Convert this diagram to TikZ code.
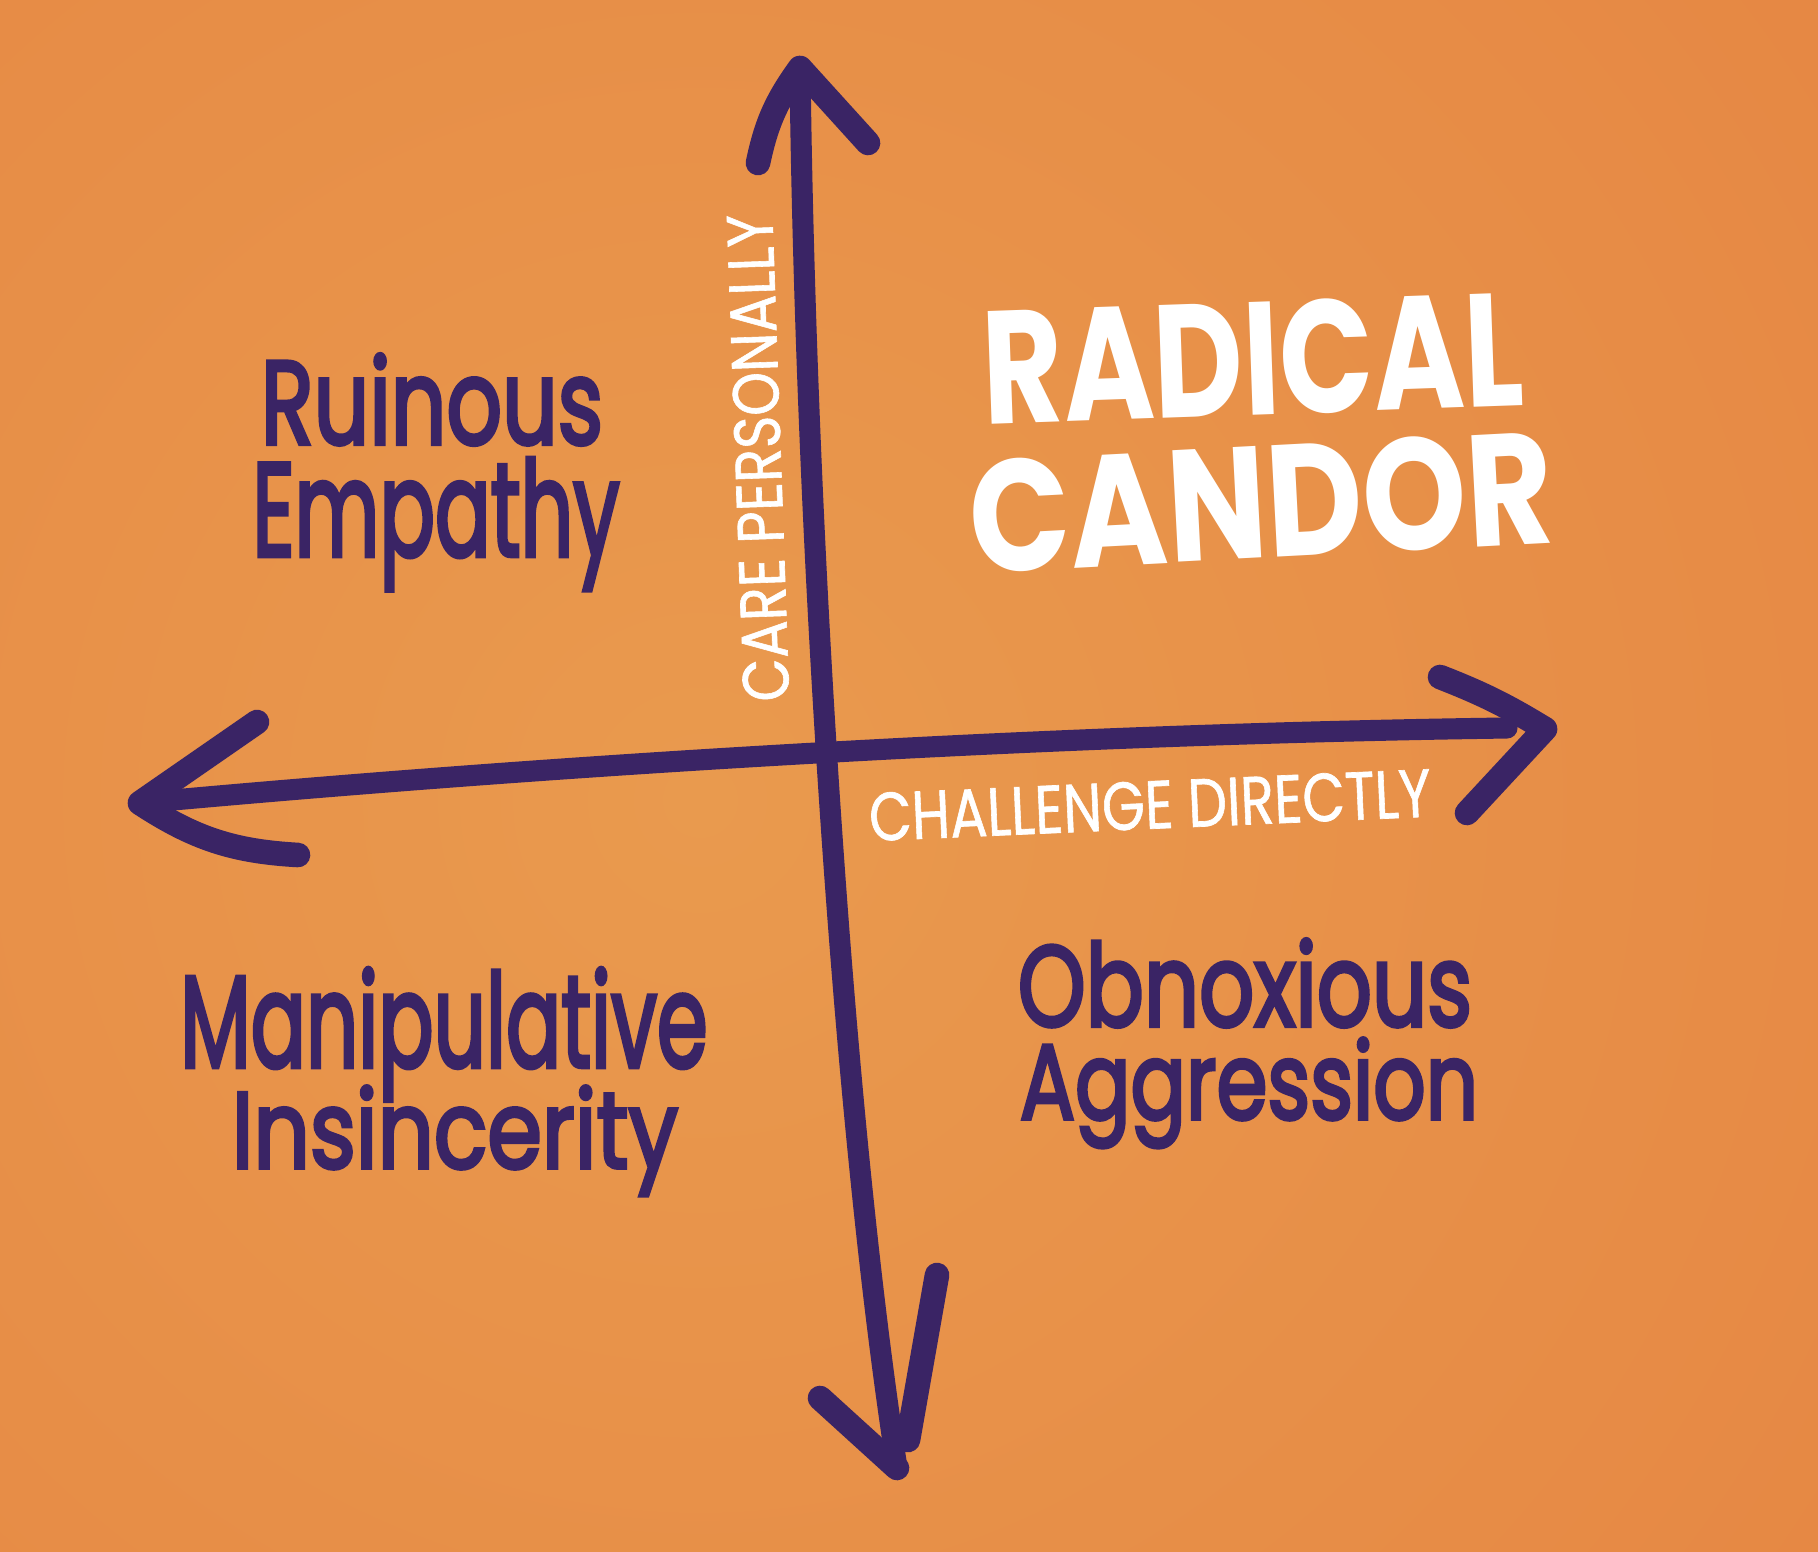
\documentclass[tikz,border=0pt]{standalone}
\usepackage{fontspec}
\setmainfont{Poppins}
\newfontfamily\markerfont{Poppins}[FakeBold=3.5]
\newfontfamily\thinmarker{Poppins}[FakeBold=1]
\usepackage{graphicx}
\definecolor{navy}{HTML}{3A2465}
\definecolor{paper}{HTML}{E99A4E}
\definecolor{paperedge}{HTML}{E47A3C}
\newcommand{\fitword}[3]{\resizebox{#1cm}{#2cm}{#3}}
\tikzset{
  marker/.style={draw=navy, line width=6pt, line cap=round, line join=round},
  barb/.style={marker, line width=7pt},
  quadlabel/.style={text=navy, font=\markerfont, inner sep=0pt, anchor=base},
  chalk/.style={text=white, font=\thinmarker, inner sep=0pt},
  bigchalk/.style={chalk, font=\bfseries, anchor=base},
}
\begin{document}
\begin{tikzpicture}[x=0.01cm, y=-0.01cm]
% paper
\useasboundingbox (0,0) rectangle (1818,1552);
\shade[inner color=paper, outer color=paperedge] (-1700,-1600) rectangle (3100,3200);
% axis ends
\coordinate (top) at (800,68);
\coordinate (bottom) at (897,1468);
\coordinate (left) at (140,803);
\coordinate (right) at (1545,729);
\coordinate (shaftR) at (1507,728);
\coordinate (topL) at (758,163);
\coordinate (topR) at (868,143);
\coordinate (botL) at (820,1398);
\coordinate (botR1) at (937,1275);
\coordinate (botR2) at (908,1440);
\coordinate (leftU) at (257,722);
\coordinate (leftD) at (298,855);
\coordinate (rightU) at (1440,677);
\coordinate (rightD) at (1467,813);
% vertical axis: care personally
\draw[marker] (top) .. controls (805,500) and (840,1100) .. (bottom);
\draw[barb] (topL) to[bend left=12] (top) -- (topR);
\draw[barb] (botL) -- (bottom);
\draw[barb] (botR1) -- (botR2);
% horizontal axis: challenge directly
\draw[marker] (left) .. controls (500,770) and (1000,735) .. (shaftR);
\draw[barb] (leftU) -- (left) to[bend right=15] (leftD);
\draw[barb] (rightU) to[bend left=5] (right) -- (rightD);
% axis labels
\node[chalk, rotate=92] (care) at (758,458) {\fitword{4.87}{0.46}{CARE PERSONALLY}};
\node[chalk, rotate=2.5] (challenge) at (1150,805) {\fitword{5.62}{0.48}{CHALLENGE DIRECTLY}};
% quadrants
\node[quadlabel] (ruinous) at (432,444) {\fitword{3.42}{0.90}{Ruinous}};
\node[quadlabel] (empathy) at (436,556) {\fitword{3.67}{0.98}{Empathy}};
\node[bigchalk, rotate=2] (radical) at (1255,415) {\fitword{5.40}{1.14}{RADICAL}};
\node[bigchalk, rotate=3] (candor) at (1264,558) {\fitword{5.84}{1.13}{CANDOR}};
\node[quadlabel] (manip) at (444,1067) {\fitword{5.27}{0.99}{Manipulative}};
\node[quadlabel] (insinc) at (455,1168) {\fitword{4.46}{0.82}{Insincerity}};
\node[quadlabel] (obnox) at (1245,1026) {\fitword{4.54}{0.87}{Obnoxious}};
\node[quadlabel] (aggr) at (1249,1119) {\fitword{4.58}{0.81}{Aggression}};
\end{tikzpicture}
\end{document}
